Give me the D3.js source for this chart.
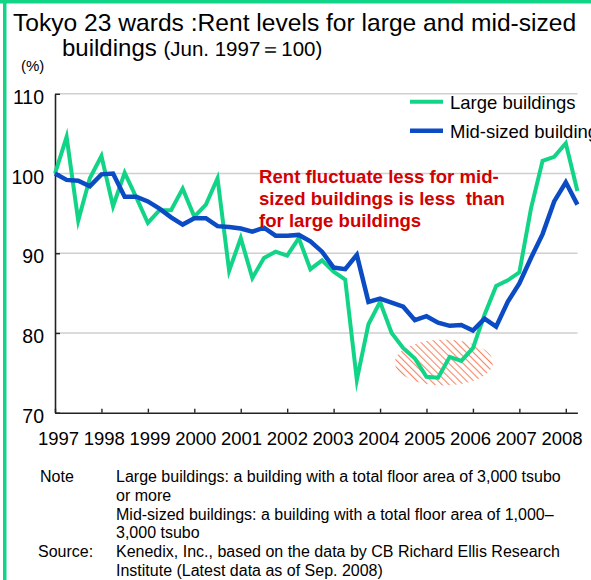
<!DOCTYPE html>
<html><head><meta charset="utf-8">
<script src="https://cdn.jsdelivr.net/npm/d3@7"></script>
<style>
body{margin:0;background:#fff;overflow:hidden}
svg text{font-family:"Liberation Sans",Arial,sans-serif}
</style>
</head><body>
<svg id="c" width="591" height="580"></svg>
<script>
// ---- data (quarterly, Jun. 1997 .. Sep. 2008; Jun. 1997 = 100) ----
const years = ["1997","1998","1999","2000","2001","2002","2003","2004","2005","2006","2007","2008"];
const quarters = ["1997Q2","1997Q3","1997Q4",
  "1998Q1","1998Q2","1998Q3","1998Q4","1999Q1","1999Q2","1999Q3","1999Q4",
  "2000Q1","2000Q2","2000Q3","2000Q4","2001Q1","2001Q2","2001Q3","2001Q4",
  "2002Q1","2002Q2","2002Q3","2002Q4","2003Q1","2003Q2","2003Q3","2003Q4",
  "2004Q1","2004Q2","2004Q3","2004Q4","2005Q1","2005Q2","2005Q3","2005Q4",
  "2006Q1","2006Q2","2006Q3","2006Q4","2007Q1","2007Q2","2007Q3","2007Q4",
  "2008Q1","2008Q2","2008Q3"];
const largeBuildings = [100,104.6,94.1,99.4,102.2,95.9,100.1,97.0,93.8,95.4,95.4,98.1,94.6,96.1,99.4,87.8,
  91.9,86.9,89.4,90.2,89.7,91.9,88.0,89.1,87.7,86.7,74.1,81.1,83.9,80.0,78.1,76.8,74.5,74.4,77.0,76.5,
  78.1,82.3,85.9,86.6,87.6,95.6,101.6,102.1,103.8,97.8];
const midBuildings = [100,99.2,99.1,98.4,99.9,100,97.1,97.1,96.5,95.6,94.5,93.6,94.4,94.4,93.4,93.3,
  93.1,92.7,93.2,92.2,92.2,92.3,91.5,90.2,88.2,88.0,89.8,83.9,84.3,83.8,83.3,81.6,82.1,81.3,80.9,81.0,
  80.3,81.8,80.8,83.9,86.2,89.4,92.4,96.5,98.9,96.1];
const yTicks = [70,80,90,100,110];
const gridTicks = [80,90,100,110];
const seriesNames = ["Large buildings","Mid-sized buildings"];
const seriesColors = ["#12d486","#0b4cc4"];
const noteLines = [
  ["Note","Large buildings: a building with a total floor area of 3,000 tsubo"],
  ["","or more"],
  ["","Mid-sized buildings: a building with a total floor area of 1,000\u2013"],
  ["","3,000 tsubo"],
  ["Source:","Kenedix, Inc., based on the data by CB Richard Ellis Research"],
  ["","Institute (Latest data as of Sep. 2008)"]
];

const svg = d3.select("#c");
const green = "#12d486";

// frame
svg.append("rect").attr("x",0).attr("y",0).attr("width",591).attr("height",3.5).attr("fill",green);
svg.append("rect").attr("x",3).attr("y",0).attr("width",3.5).attr("height",580).attr("fill",green);

// title
svg.append("text").attr("x",13).attr("y",31).attr("font-size",24.6).attr("fill","#000")
  .text("Tokyo 23 wards :Rent levels for large and mid-sized");
const t2 = svg.append("text").attr("x",62).attr("y",56).attr("font-size",24).attr("fill","#000");
t2.append("tspan").text("buildings ");
t2.append("tspan").attr("font-size",20.5).text("(Jun. 1997\uFF1D100)");
svg.append("text").attr("x",21).attr("y",71).attr("font-size",15).text("(%)");

// scales
const x = d3.scaleLinear().domain([0, quarters.length-1]).range([55, 577.4]);
const y = d3.scaleLinear().domain([70,110]).range([412.7, 93.8]);
const xLabel = d3.scalePoint().domain(years).range([58.5, 562]);

// grid
svg.append("g").selectAll("line").data(gridTicks).join("line")
  .attr("x1",55).attr("x2",577.5).attr("y1",d=>y(d)).attr("y2",d=>y(d))
  .attr("stroke","#cfcfcf").attr("stroke-width",1.5);

// hatched ellipse
const defs = svg.append("defs");
const pat = defs.append("pattern").attr("id","hatch").attr("patternUnits","userSpaceOnUse")
  .attr("width",5).attr("height",5).attr("patternTransform","rotate(-45)");
pat.append("line").attr("x1",0).attr("y1",0).attr("x2",0).attr("y2",5)
  .attr("stroke","#f27a55").attr("stroke-width",2.2);
svg.append("ellipse").attr("cx",x(33.5)).attr("cy",y(76.3)).attr("rx",49).attr("ry",23)
  .attr("fill","url(#hatch)").attr("opacity",0.9);

// axes
const yAxis = d3.axisRight(y).tickValues(yTicks).tickSize(5).tickSizeOuter(0).tickFormat("");
const ya = svg.append("g").attr("transform","translate(55,0)").call(yAxis);
const xAxis = d3.axisTop(x).tickValues(d3.range(0, quarters.length, 4)).tickSize(4).tickSizeOuter(0).tickFormat("");
const xa = svg.append("g").attr("transform",`translate(0,${y(70)})`).call(xAxis);
[ya,xa].forEach(g=>{
  g.select(".domain").attr("stroke","#222").attr("stroke-width",1.6);
  g.selectAll(".tick line").attr("stroke","#222").attr("stroke-width",1.4);
});

// y labels
svg.append("g").selectAll("text").data(yTicks).join("text")
  .attr("x",44).attr("y",d=>y(d)+10).attr("text-anchor","end").attr("font-size",19.5).text(d=>d);
// x labels
svg.append("g").selectAll("text").data(years).join("text")
  .attr("x",d=>xLabel(d)).attr("y",445).attr("text-anchor","middle").attr("font-size",18.5).text(d=>d);

// lines
const line = d3.line().x((d,i)=>x(i)).y(d=>y(d));
[largeBuildings, midBuildings].forEach((s,k)=>{
  svg.append("path").datum(s).attr("d",line).attr("fill","none")
    .attr("stroke",seriesColors[k]).attr("stroke-width",k===0?4:4.5)
    .attr("stroke-linejoin","miter").attr("stroke-miterlimit",10);
});

// legend
const leg = svg.append("g");
seriesNames.forEach((n,k)=>{
  const yy = 101.7 + k*29;
  leg.append("line").attr("x1",410).attr("x2",443).attr("y1",yy).attr("y2",yy)
    .attr("stroke",seriesColors[k]).attr("stroke-width",k===0?4:4.5);
  leg.append("text").attr("x",450).attr("y",yy+7).attr("font-size",18.5).text(n);
});

// annotation
const ann = ["Rent fluctuate less for mid-","sized buildings is less\u00A0 than","for large buildings"];
svg.append("g").selectAll("text").data(ann).join("text")
  .attr("x",259).attr("y",(d,i)=>183+i*22).attr("font-size",18.6).attr("font-weight","bold")
  .attr("fill","#d20000").text(d=>d);

// notes
const ng = svg.append("g");
noteLines.forEach((r,i)=>{
  const yy = 482 + i*18.8;
  if(r[0]) ng.append("text").attr("x", r[0]==="Note"?40:38).attr("y",yy).attr("font-size",16).text(r[0]);
  ng.append("text").attr("x",116).attr("y",yy).attr("font-size",16).text(r[1]);
});
</script>
</body></html>
